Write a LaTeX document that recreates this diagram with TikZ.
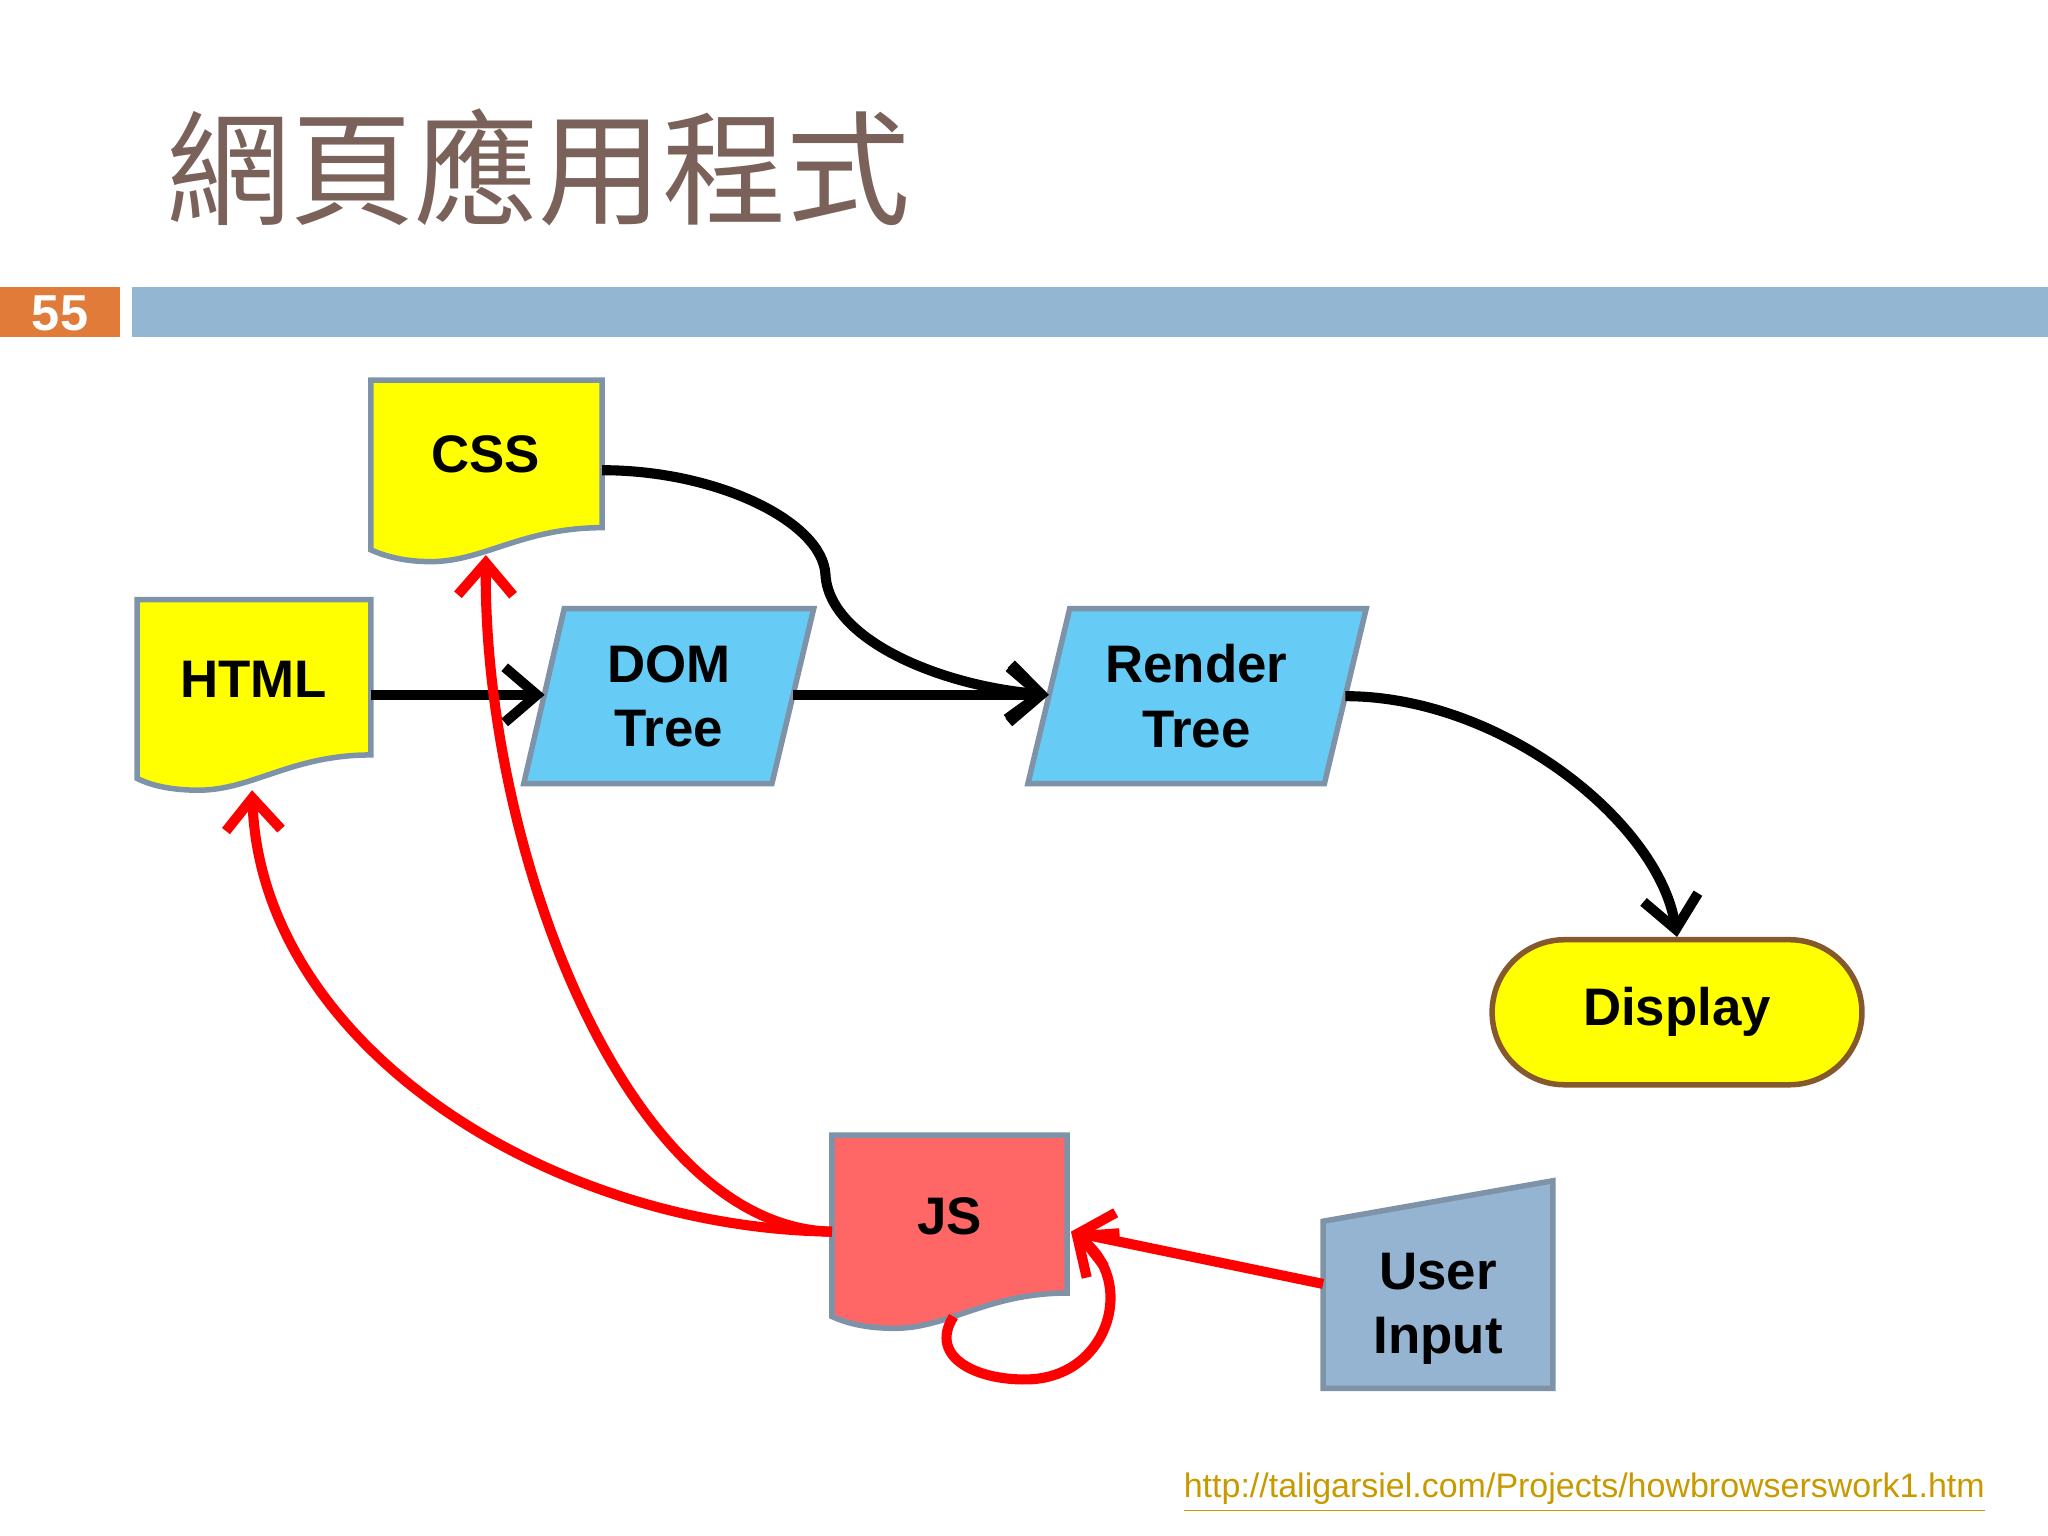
\documentclass[tikz,border=0pt]{standalone}
\usepackage{fontspec}
\setmainfont{Liberation Sans}
\newfontfamily\cjk{Noto Sans CJK TC}
\usetikzlibrary{arrows.meta,shapes.misc}
\definecolor{titlec}{HTML}{7A625A}
\definecolor{numc}{HTML}{E07B39}
\definecolor{barc}{HTML}{93B6D2}
\definecolor{yel}{HTML}{FFFF00}
\definecolor{sky}{HTML}{66CCF5}
\definecolor{jsc}{HTML}{FF6666}
\definecolor{uic}{HTML}{94B4D2}
\definecolor{edge}{HTML}{7F93A8}
\definecolor{urlc}{HTML}{C89A00}
\tikzset{
 shp/.style={draw=edge,line width=1.2pt},
 lbl/.style={font=\bfseries\fontsize{11.5}{14}\selectfont,align=center},
 blk/.style={line width=2.2pt,-{Straight Barb[length=7pt,width=12pt,line width=2.2pt]}},
 redarr/.style={red,line width=2.2pt,-{Straight Barb[length=7pt,width=12pt,line width=2.2pt]}},
}
\begin{document}
\begin{tikzpicture}[x=0.01cm,y=-0.01cm]
\useasboundingbox (0,0) rectangle (1568,1176);
\node[titlec,anchor=west,font=\cjk\fontsize{27}{30}\selectfont] (title) at (115,128) {網頁應用程式};
\fill[numc] (0,220) rectangle (92,258);
\node[white,font=\bfseries\fontsize{11}{13}\selectfont] (num) at (46,240) {55};
\fill[barc] (101,220) rectangle (1568,258);
% CSS
\draw[shp,fill=yel] (284,291) -- (461,291) -- (461,404) .. controls (400,404) and (370,430) .. (330,430) .. controls (310,430) and (295,426) .. (284,421) -- cycle;
\node[lbl] (css) at (372,348) {CSS};
% HTML
\draw[shp,fill=yel] (105,459) -- (284,459) -- (284,578) .. controls (223,578) and (193,605) .. (152,605) .. controls (130,605) and (115,601) .. (105,596) -- cycle;
\node[lbl] (html) at (194,520) {HTML};
% DOM
\draw[shp,fill=sky] (432,466) -- (623,466) -- (591,600) -- (401,600) -- cycle;
\node[lbl] (dom) at (512,533) {DOM\\Tree};
% Render
\draw[shp,fill=sky] (819,466) -- (1046,466) -- (1014,600) -- (787,600) -- cycle;
\node[lbl] (render) at (916,533) {Render\\Tree};
% Display
\node[rounded rectangle,draw=brown!70!black,line width=1.2pt,fill=yel,minimum width=2.83cm,minimum height=1.11cm,inner sep=0pt,lbl] (display) at (1284,775) {Display};
% JS
\draw[shp,fill=jsc] (637,869) -- (817,869) -- (817,990) .. controls (756,990) and (726,1017) .. (685,1017) .. controls (663,1017) and (648,1013) .. (637,1008) -- cycle;
\node[lbl] (js) at (727,931) {JS};
% User Input
\draw[shp,fill=uic] (1013,935) -- (1189,904) -- (1189,1063) -- (1013,1063) -- cycle;
\node[lbl] (ui) at (1101,1002) {User\\Input};
% coordinates
\coordinate (htmlR) at (284,532); \coordinate (domL) at (417,532);
\coordinate (domR) at (607,532); \coordinate (renL) at (803,532);
\coordinate (cssR) at (461,360); \coordinate (renR) at (1030,533);
\coordinate (jsL) at (637,943); \coordinate (htmlB) at (193,605);
\coordinate (cssB) at (372,425); \coordinate (uiL) at (1013,983);
\coordinate (jsR) at (820,943); \coordinate (jsB) at (730,1008);
% black arrows
\draw[blk] (htmlR) -- (domL);
\draw[blk] (domR) -- (renL);
\draw[blk] (cssR) .. controls (550,360) and (630,400) .. (632,440) .. controls (635,490) and (720,525) .. (renL);
\draw[blk] (renR) .. controls (1150,533) and (1270,630) .. (display.north);
% red arrows
\draw[redarr] (jsL) .. controls (420,940) and (200,800) .. (htmlB);
\draw[redarr] (jsL) .. controls (480,940) and (370,650) .. (cssB);
\draw[redarr] (uiL) -- (jsR);
\draw[redarr] (jsB) .. controls (710,1040) and (750,1058) .. (790,1056) .. controls (850,1052) and (870,980) .. (jsR);
\node[urlc,anchor=east,font=\fontsize{7.4}{9}\selectfont] (url) at (1532,1143) {\underline{http://taligarsiel.com/Projects/howbrowserswork1.htm}};
\end{tikzpicture}
\end{document}
